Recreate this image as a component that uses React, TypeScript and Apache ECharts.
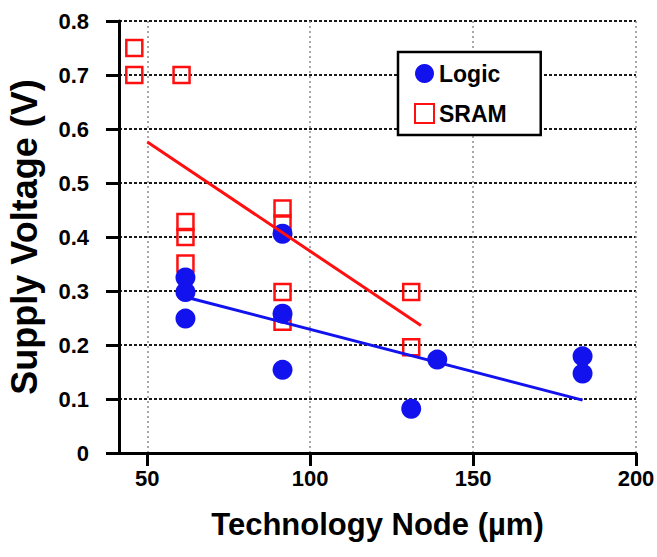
import React, { useEffect, useRef } from "react";
import * as echarts from "echarts";

// Measured supply voltages per technology node
const logicPoints: [number, number][] = [
  [61.7, 0.325],
  [61.7, 0.298],
  [61.7, 0.249],
  [91.5, 0.406],
  [91.5, 0.258],
  [91.5, 0.154],
  [131, 0.082],
  [139, 0.173],
  [183.6, 0.179],
  [183.6, 0.147],
];

const sramPoints: [number, number][] = [
  [46, 0.75],
  [46, 0.7],
  [60.5, 0.7],
  [61.7, 0.428],
  [61.7, 0.4],
  [61.7, 0.351],
  [91.5, 0.453],
  [91.5, 0.425],
  [91.5, 0.298],
  [91.5, 0.243],
  [131, 0.298],
  [131, 0.196],
];

// Linear trend lines (end points)
const logicTrend: [number, number][] = [
  [61.7, 0.289],
  [183.6, 0.098],
];
const sramTrend: [number, number][] = [
  [50, 0.576],
  [134, 0.236],
];

const xTicks = [50, 100, 150, 200];

const FONT = "'Liberation Sans', Arial, Helvetica, sans-serif";
const BLUE = "#1212ee";
const RED = "#ff1010";

export default function App() {
  const ref = useRef<HTMLDivElement>(null);

  useEffect(() => {
    if (!ref.current) return;
    const chart = echarts.init(ref.current, undefined, { renderer: "svg" });
    chart.setOption({
      animation: false,
      backgroundColor: "#ffffff",
      grid: {
        left: 119,
        right: 21,
        top: 21,
        bottom: 104,
        containLabel: false,
        outerBoundsMode: "none",
      },
      legend: {
        orient: "vertical",
        left: 398,
        top: 52,
        data: ["Logic", "SRAM"],
        backgroundColor: "#ffffff",
        borderColor: "#000000",
        borderWidth: 2.5,
        borderRadius: 0,
        padding: [10, 34, 10, 16],
        itemWidth: 19,
        itemHeight: 19,
        itemGap: 17,
        itemTextGap: 13,
        textStyle: {
          fontFamily: FONT,
          fontWeight: "bold",
          fontSize: 23,
          color: "#000000",
        },
      },
      xAxis: {
        type: "value",
        min: 41.3,
        max: 200,
        splitNumber: 3,
        name: "Technology Node (µm)",
        nameLocation: "middle",
        nameGap: 56,
        nameTextStyle: {
          fontFamily: FONT,
          fontWeight: "bold",
          fontSize: 31,
          color: "#000000",
        },
        axisLine: { show: true, lineStyle: { color: "#000000", width: 3 } },
        axisTick: {
          show: true,
          inside: false,
          length: 13,
          customValues: xTicks,
          lineStyle: { color: "#000000", width: 3 },
        },
        axisLabel: {
          customValues: xTicks,
          margin: 14,
          fontFamily: FONT,
          fontWeight: "bold",
          fontSize: 22,
          color: "#000000",
        },
        splitLine: {
          show: true,
          lineStyle: { color: "#8a8a8a", width: 1.5, type: [2, 3] },
        },
      },
      yAxis: {
        type: "value",
        min: 0,
        max: 0.8,
        interval: 0.1,
        name: "Supply Voltage (V)",
        nameLocation: "middle",
        nameGap: 77,
        nameTextStyle: {
          fontFamily: FONT,
          fontWeight: "bold",
          fontSize: 36,
          color: "#000000",
        },
        axisLine: { show: true, lineStyle: { color: "#000000", width: 3 } },
        axisTick: {
          show: true,
          inside: false,
          length: 13,
          lineStyle: { color: "#000000", width: 3 },
        },
        axisLabel: {
          margin: 30,
          fontFamily: FONT,
          fontWeight: "bold",
          fontSize: 22,
          color: "#000000",
          formatter: (v: number) => (v === 0 ? "0" : v.toFixed(1)),
        },
        splitLine: {
          show: true,
          lineStyle: { color: "#1a1a1a", width: 2, type: [3, 2] },
        },
      },
      series: [
        {
          name: "SRAM",
          type: "scatter",
          symbol: "rect",
          symbolSize: 16,
          itemStyle: {
            color: "rgba(255,255,255,0)",
            borderColor: RED,
            borderWidth: 2.5,
            opacity: 1,
          },
          data: sramPoints,
        },
        {
          name: "Logic",
          type: "scatter",
          symbol: "circle",
          symbolSize: 20,
          itemStyle: { color: BLUE, opacity: 1 },
          data: logicPoints,
        },
        {
          name: "SRAM trend",
          type: "line",
          showSymbol: false,
          symbol: "none",
          lineStyle: { color: RED, width: 3 },
          data: sramTrend,
        },
        {
          name: "Logic trend",
          type: "line",
          showSymbol: false,
          symbol: "none",
          lineStyle: { color: BLUE, width: 3 },
          data: logicTrend,
        },
      ],
    });
    return () => chart.dispose();
  }, []);

  return <div ref={ref} style={{ width: 657, height: 557, position: "absolute", left: 0, top: 0 }} />;
}
